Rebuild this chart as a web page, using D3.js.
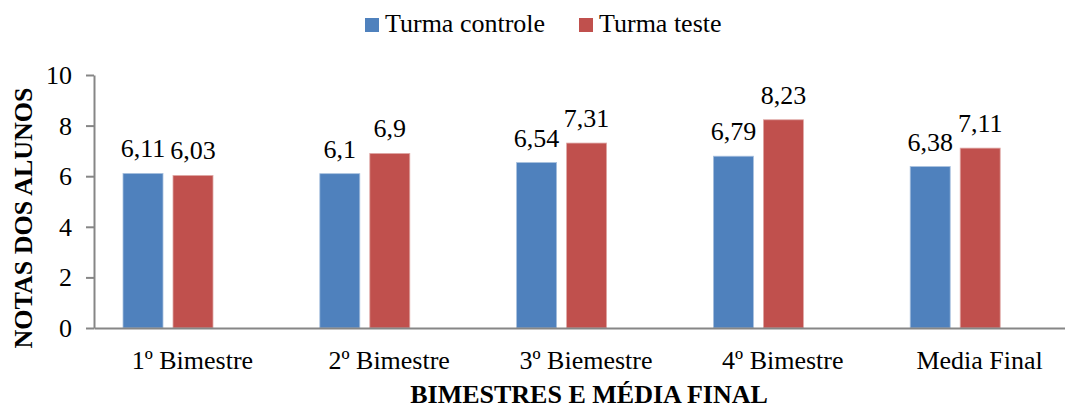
<!DOCTYPE html>
<html>
<head>
<meta charset="utf-8">
<script src="https://cdn.jsdelivr.net/npm/d3@7/dist/d3.min.js"></script>
<style>
  html, body { margin: 0; padding: 0; background: #fff; }
  svg { display: block; }
  svg text { font-family: "Liberation Serif", "Tinos", "Times New Roman", Times, "DejaVu Serif", serif; }
</style>
</head>
<body>
<svg id="chart" width="1065" height="408"></svg>
<script>
// Categories (bimesters and final average)
const categories = ["1º Bimestre", "2º Bimestre", "3º Biemestre", "4º Bimestre", "Media Final"];
// Series names
const seriesNames = ["Turma controle", "Turma teste"];
// Grades per series
const controle = [6.11, 6.1, 6.54, 6.79, 6.38];
const teste = [6.03, 6.9, 7.31, 8.23, 7.11];
// Value-axis ticks
const yTicks = [0, 2, 4, 6, 8, 10];

const colors = ["#4F81BD", "#C0504D"];
const edgeColors = ["#A7C0DE", "#DFA8A6"];
const axisColor = "#868686";

const rows = categories.map((c, i) => ({ cat: c, values: [controle[i], teste[i]] }));

const svg = d3.select("#chart");

// Plot geometry
const plotLeft = 94, plotBottom = 328, plotTop = 75, catStep = 196.8;

const x = d3.scaleBand().domain(categories).range([plotLeft, plotLeft + catStep * categories.length]).padding(0);
const xSub = d3.scaleBand().domain(seriesNames).range([29, 119]).paddingInner(0.2).paddingOuter(0);
const y = d3.scaleLinear().domain([0, 10]).range([plotBottom, plotTop]);

// Bars
const groups = svg.append("g").selectAll("g")
  .data(rows).join("g")
  .attr("transform", d => `translate(${x(d.cat)},0)`);

groups.selectAll("rect")
  .data(d => d.values.map((v, k) => ({ v, k })))
  .join("rect")
  .attr("x", d => xSub(seriesNames[d.k]))
  .attr("y", d => y(d.v))
  .attr("width", xSub.bandwidth())
  .attr("height", d => y(0) - y(d.v))
  .attr("fill", d => colors[d.k])
  .attr("stroke", d => edgeColors[d.k])
  .attr("stroke-width", 0.8);

// Value labels above bars
groups.selectAll("text.val")
  .data(d => d.values.map((v, k) => ({ v, k })))
  .join("text")
  .attr("class", "val")
  .attr("x", d => xSub(seriesNames[d.k]) + xSub.bandwidth() / 2)
  .attr("y", d => y(d.v) - 16)
  .attr("text-anchor", "middle")
  .attr("font-size", 26)
  .attr("fill", "#000")
  .text(d => String(d.v).replace(".", ","));

// X axis
const xAxis = svg.append("g")
  .attr("transform", `translate(0,${plotBottom})`)
  .call(d3.axisBottom(x).tickSize(0).tickPadding(0));
xAxis.attr("font-family", null);
xAxis.select(".domain").attr("stroke", axisColor).attr("stroke-width", 2);
xAxis.selectAll("text")
  .attr("font-size", 26)
  .attr("fill", "#000")
  .attr("dy", null)
  .attr("y", 41);

// Y axis
const yAxis = svg.append("g")
  .attr("transform", `translate(${plotLeft},0)`)
  .call(d3.axisLeft(y).tickValues(yTicks).tickSize(8).tickPadding(14).tickSizeOuter(0));
yAxis.attr("font-family", null);
yAxis.select(".domain").attr("stroke", axisColor).attr("stroke-width", 2);
yAxis.selectAll(".tick line").attr("stroke", axisColor).attr("stroke-width", 2);
yAxis.selectAll("text")
  .attr("font-size", 26)
  .attr("fill", "#000")
  .attr("dy", "0.33em");

// Axis titles
svg.append("text")
  .attr("x", 589)
  .attr("y", 403)
  .attr("text-anchor", "middle")
  .attr("font-size", 26)
  .attr("font-weight", "bold")
  .text("BIMESTRES E MÉDIA FINAL");

svg.append("text")
  .attr("transform", "translate(32,218) rotate(-90)")
  .attr("text-anchor", "middle")
  .attr("font-size", 26)
  .attr("font-weight", "bold")
  .text("NOTAS DOS ALUNOS");

// Legend
const legendX = [365, 579];
const legend = svg.append("g").selectAll("g")
  .data(seriesNames).join("g")
  .attr("transform", (d, i) => `translate(${legendX[i]},18)`);
legend.append("rect")
  .attr("width", 14).attr("height", 14)
  .attr("fill", (d, i) => colors[i]);
legend.append("text")
  .attr("x", 20).attr("y", 14)
  .attr("font-size", 26)
  .text(d => d);
</script>
</body>
</html>
